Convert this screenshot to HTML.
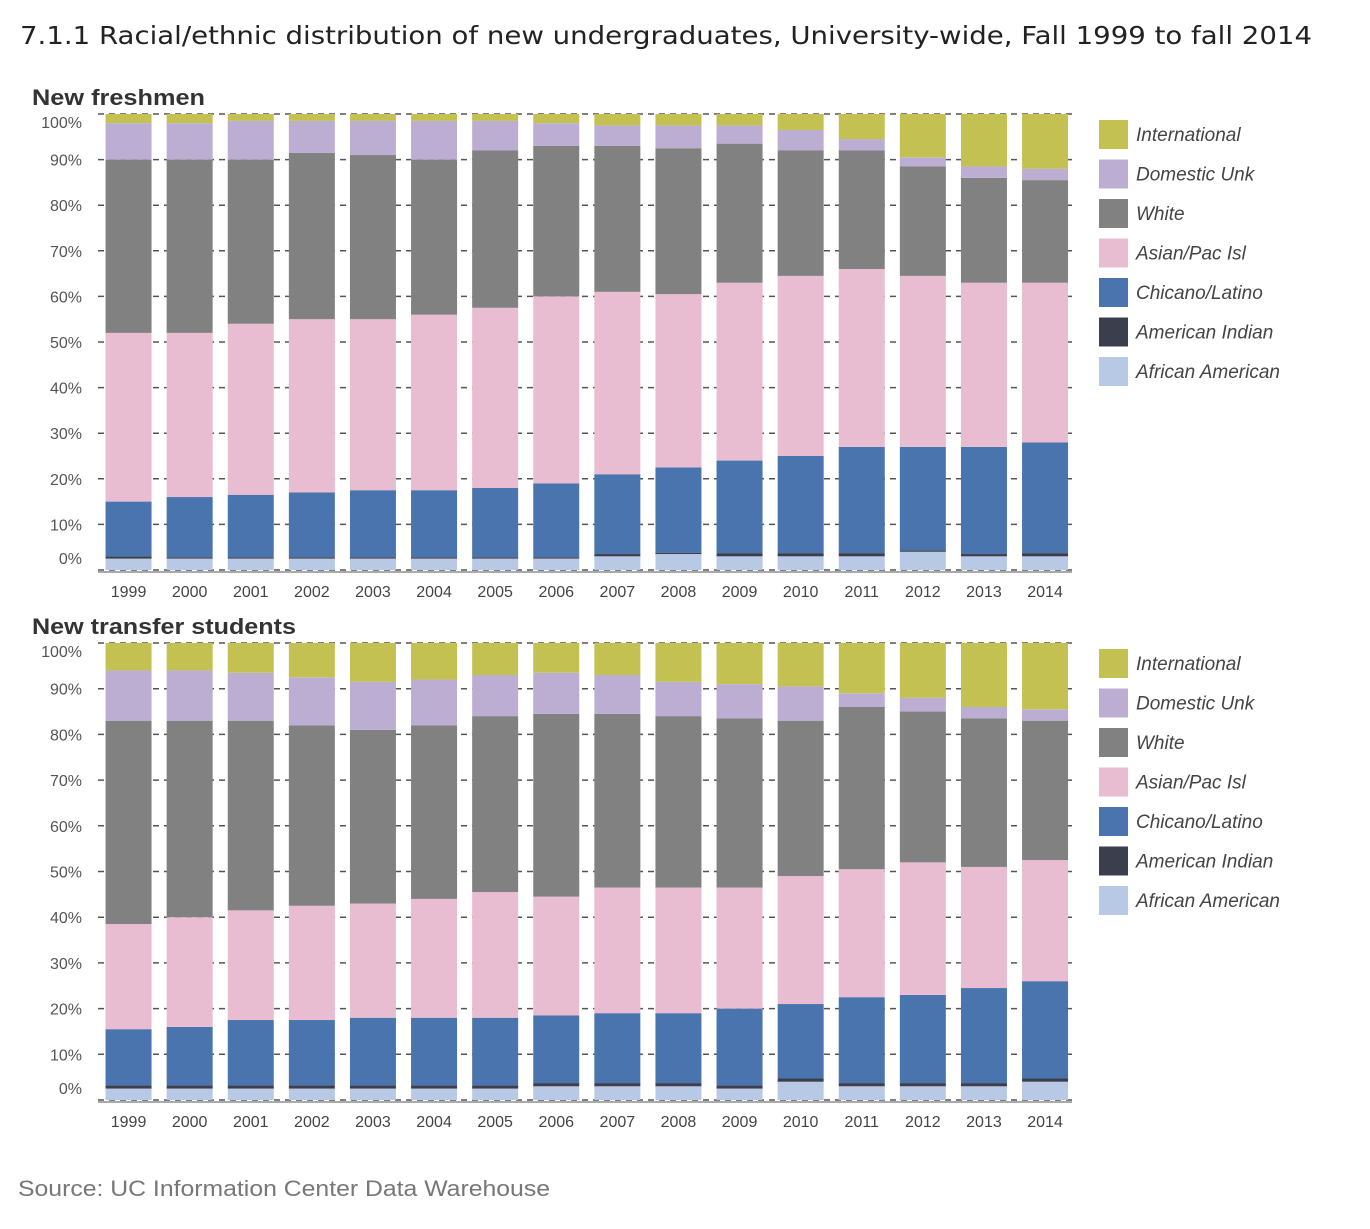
<!DOCTYPE html>
<html><head><meta charset="utf-8"><style>
body{margin:0;background:#fff;width:1370px;height:1224px;overflow:hidden;font-family:"Liberation Sans",sans-serif}
</style></head><body>
<svg id="chart" width="1370" height="1224" xmlns="http://www.w3.org/2000/svg" font-family="Liberation Sans, DejaVu Sans, sans-serif">
<text x="20" y="44" font-size="25" fill="#222" font-family="DejaVu Sans, sans-serif" textLength="1292" lengthAdjust="spacingAndGlyphs">7.1.1 Racial/ethnic distribution of new undergraduates, University-wide, Fall 1999 to fall 2014</text>
<text x="18" y="1196" font-size="22" fill="#777" textLength="532" lengthAdjust="spacingAndGlyphs">Source: UC Information Center Data Warehouse</text>
</svg>
<script>
const years=["1999","2000","2001","2002","2003","2004","2005","2006","2007","2008","2009","2010","2011","2012","2013","2014"];
const seriesNames=["African American","American Indian","Chicano/Latino","Asian/Pac Isl","White","Domestic Unk","International"];
const yTicks=[0,10,20,30,40,50,60,70,80,90,100];
const yTickLabels=["0%","10%","20%","30%","40%","50%","60%","70%","80%","90%","100%"];
// Freshmen segment values (%)
const frAfr=[2.5,2.5,2.5,2.5,2.5,2.5,2.5,2.5,3,3.5,3,3,3,4,3,3];
const frAmInd=[0.5,0.3,0.3,0.3,0.3,0.3,0.3,0.3,0.5,0.3,0.7,0.7,0.7,0.3,0.5,0.7];
const frChicano=[12,13.2,13.7,14.2,14.7,14.7,15.2,16.2,17.5,18.7,20.3,21.3,23.3,22.7,23.5,24.3];
const frAsian=[37,36,37.5,38,37.5,38.5,39.5,41,40,38,39,39.5,39,37.5,36,35];
const frWhite=[38,38,36,36.5,36,34,34.5,33,32,32,30.5,27.5,26,24,23,22.5];
const frDomUnk=[8,8,8.5,7,7.5,8.5,6.5,5,4.5,5,4,4.5,2.5,2,2.5,2.5];
const frIntl=[2,2,1.5,1.5,1.5,1.5,1.5,2,2.5,2.5,2.5,3.5,5.5,9.5,11.5,12];
// Transfer segment values (%)
const trAfr=[2.5,2.5,2.5,2.5,2.5,2.5,2.5,3,3,3,2.5,4,3,3,3,4];
const trAmInd=[0.7,0.7,0.7,0.7,0.7,0.7,0.7,0.7,0.7,0.7,0.7,0.7,0.7,0.7,0.7,0.7];
const trChicano=[12.3,12.8,14.3,14.3,14.8,14.8,14.8,14.8,15.3,15.3,16.8,16.3,18.8,19.3,20.8,21.3];
const trAsian=[23,24,24,25,25,26,27.5,26,27.5,27.5,26.5,28,28,29,26.5,26.5];
const trWhite=[44.5,43,41.5,39.5,38,38,38.5,40,38,37.5,37,34,35.5,33,32.5,30.5];
const trDomUnk=[11,11,10.5,10.5,10.5,10,9,9,8.5,7.5,7.5,7.5,3,3,2.5,2.5];
const trIntl=[6,6,6.5,7.5,8.5,8,7,6.5,7,8.5,9,9.5,11,12,14,14.5];

const colors=["#b8c9e6","#3b3f4d","#4a74ad","#e8bdd1","#818181","#bcaed3","#c2c152"];
const svg=document.getElementById('chart');
const NS="http://www.w3.org/2000/svg";
function mk(tag,attrs,parent){const e=document.createElementNS(NS,tag);for(const k in attrs)e.setAttribute(k,attrs[k]);(parent||svg).appendChild(e);return e;}

function panel(title,key,y0,y100,series,titleLen){
  const g=mk('g',{});
  
  
  const xL=98,xR=1072,step=61.1,bw=46;
  const yS=v=>y0-(v/100)*(y0-y100);
  const xC=i=>xL+step/2+i*step;
  const t=mk('text',{x:32,y:y100-9,'font-size':22,'font-weight':'bold',fill:'#333',textLength:titleLen,lengthAdjust:'spacingAndGlyphs'},g);
  t.textContent=title;
  
  
  yTicks.forEach((v,i)=>{
    const gl=mk('line',{x1:xL,x2:xR,y1:yS(v),y2:yS(v),stroke:'#555','stroke-width':1.5,'stroke-dasharray':'6,5'},g);
    
    
    const tl=mk('text',{x:82,y:(v===100?yS(v)+14:v===0?yS(v)-6:yS(v)+6),'font-size':16,fill:'#555','text-anchor':'end'},g);
    tl.textContent=yTickLabels[i];
    
    
  });
  years.forEach((yr,i)=>{
    let cum=0;
    series.forEach((s,k)=>{
      const v=s[i];
      const r=mk('rect',{x:xC(i)-bw/2,y:yS(cum+v),width:bw,height:yS(cum)-yS(cum+v),fill:colors[k]},g);
      
      
      cum+=v;
    });
    const xl=mk('text',{x:xC(i),y:y0+27,'font-size':16,fill:'#444','text-anchor':'middle'},g);
    xl.textContent=yr;
    
    
  });
  const ax=mk('line',{x1:xL,x2:xR,y1:y0+2,y2:y0+2,stroke:'#aaa','stroke-width':2},g);
  
  
  for(let k=6;k>=0;k--){
    const ly=y100+20+(6-k)*39.5;
    const sw=mk('rect',{x:1099,y:ly-14,width:29,height:29,fill:colors[k]},g);
    
    
    const lt=mk('text',{x:1136,y:ly+7,'font-size':19,'font-style':'italic',fill:'#444'},g);
    lt.textContent=seriesNames[k];
    
    
  }
}
panel("New freshmen","freshmen",570,114,[frAfr,frAmInd,frChicano,frAsian,frWhite,frDomUnk,frIntl],173);
panel("New transfer students","transfer",1100,643,[trAfr,trAmInd,trChicano,trAsian,trWhite,trDomUnk,trIntl],264);
</script>
</body></html>
